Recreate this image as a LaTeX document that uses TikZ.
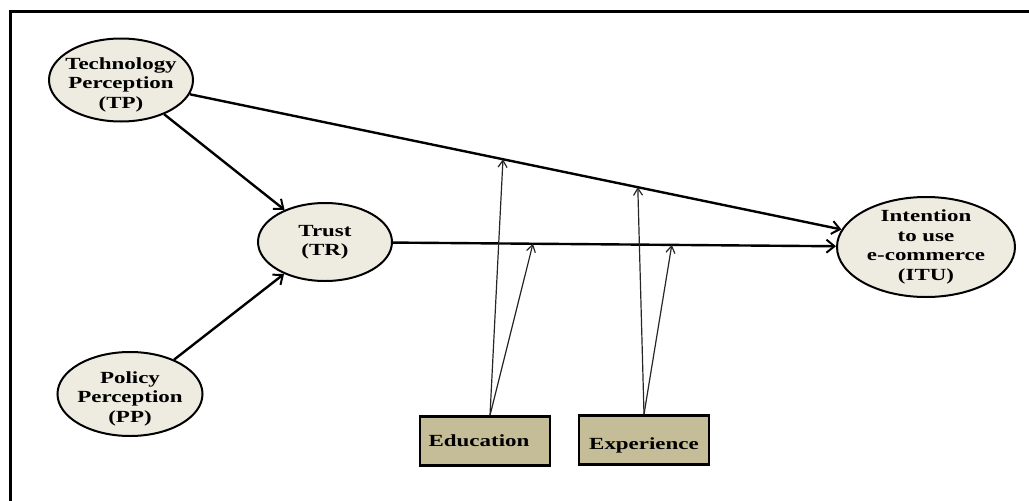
\documentclass[tikz,border=0pt]{standalone}
\usepackage{fontspec}
\setmainfont{Liberation Serif}[FakeStretch=1.35]
\usetikzlibrary{shapes.geometric,arrows.meta,calc}
\definecolor{bubble}{HTML}{EEECE1}
\definecolor{boxtan}{HTML}{C4BD97}
\newcommand{\labelFont}[0]{\bfseries\fontsize{17}{19.5}\selectfont}
\newcommand{\topGap}[0]{\rule{0pt}{21pt}}

\begin{document}
\begin{tikzpicture}[x=1pt, y=-1pt]
  \tikzset{construct/.style={ellipse,draw,line width=2pt,fill=bubble,align=center,inner xsep=-8pt,inner ysep=-4pt,font=\labelFont},
    moderator/.style={rectangle,draw,line width=2.5pt,fill=boxtan,minimum width=130pt,minimum height=49pt,font=\labelFont},
    link/.style={line width=2.4pt,-{Straight Barb[length=8pt,width=13pt,line width=2pt]}},
    modlink/.style={line width=1.2pt,black!85,-{Straight Barb[length=7pt,width=9pt]}}}
  \useasboundingbox (0,0) rectangle (1029,501);
  \draw[line width=3pt] (10,501) -- (10,11) -- (1029,11);
  % constructs
  \node[construct,minimum width=144pt,minimum height=83pt] (TP) at (121,80) {\topGap Technology\\Perception\\(TP)};
  \node[construct,minimum width=134pt,minimum height=78pt] (TR) at (325,242) {Trust\\(TR)};
  \node[construct,minimum width=145pt,minimum height=84pt] (PP) at (130,394) {\topGap Policy\\Perception\\(PP)};
  \node[construct,inner ysep=-4pt,inner xsep=-6pt,minimum width=178pt,minimum height=100pt] (ITU) at (926,247) {Intention\\to use\\e-commerce\\(ITU)};
  \node[moderator] (Edu) at (485,441) {Education\hspace*{12pt}};
  \node[moderator,text height=19pt,text depth=0pt] (Exp) at (644,440) {Experience};
  % direct effects
  \draw[link] (TP) -- (ITU);
  \draw[link] (TP) -- (TR);
  \draw[link] (PP) -- (TR);
  \draw[link] (TR) -- (ITU);
  % moderating effects
  \coordinate (edu-1) at ($(TP.center)!0.4745!(ITU.center)$);
  \coordinate (edu-2) at ($(TR.center)!0.346!(ITU.center)$);
  \coordinate (exp-1) at ($(TP.center)!0.642!(ITU.center)$);
  \coordinate (exp-2) at ($(TR.center)!0.577!(ITU.center)$);
  \coordinate (edu-base) at ($(Edu.north)+(5,0)$);
  \draw[modlink] (edu-base) -- (edu-1);
  \draw[modlink] (edu-base) -- (edu-2);
  \draw[modlink] (Exp.north) -- (exp-1);
  \draw[modlink] (Exp.north) -- (exp-2);
\end{tikzpicture}
\end{document}
